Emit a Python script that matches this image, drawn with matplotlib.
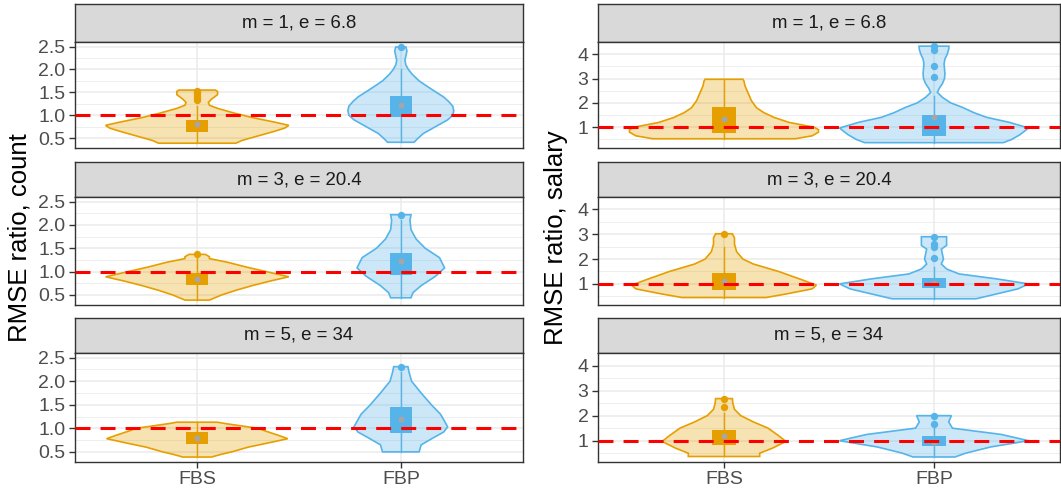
import numpy as np
import matplotlib.pyplot as plt

plt.rcParams['font.family'] = ['Liberation Sans', 'DejaVu Sans']

groups = ["FBS", "FBP"]
facets = ["m = 1, e = 6.8", "m = 3, e = 20.4", "m = 5, e = 34"]
colors = {"FBS": "#E69F00", "FBP": "#56B4E9"}

# violin outlines: value levels and half-widths (x units)
cnt_fbs_y = [[0.39, 0.45, 0.55, 0.65, 0.72, 0.78, 0.85, 0.95, 1.05, 1.15, 1.22, 1.28, 1.35, 1.45, 1.52, 1.55],
             [0.39, 0.5, 0.6, 0.7, 0.8, 0.89, 1.0, 1.1, 1.2, 1.28, 1.32, 1.37],
             [0.39, 0.45, 0.5, 0.6, 0.7, 0.78, 0.85, 0.95, 1.0, 1.05, 1.1, 1.13]]
cnt_fbs_w = [[0.19, 0.22, 0.3, 0.38, 0.43, 0.45, 0.38, 0.27, 0.18, 0.1, 0.06, 0.055, 0.07, 0.1, 0.1, 0.09],
             [0.06, 0.12, 0.19, 0.27, 0.36, 0.45, 0.34, 0.24, 0.15, 0.06, 0.06, 0.04],
             [0.07, 0.12, 0.17, 0.25, 0.36, 0.445, 0.4, 0.33, 0.3, 0.22, 0.14, 0.1]]
cnt_fbp_y = [[0.41, 0.5, 0.6, 0.7, 0.8, 0.9, 1.0, 1.1, 1.2, 1.3, 1.4, 1.5, 1.6, 1.75, 1.9, 2.0, 2.1, 2.2, 2.3, 2.4, 2.49],
             [0.44, 0.55, 0.7, 0.9, 1.08, 1.3, 1.5, 1.7, 1.9, 2.1, 2.22],
             [0.5, 0.65, 0.8, 0.92, 1.03, 1.15, 1.3, 1.5, 1.75, 2.0, 2.2, 2.31]]
cnt_fbp_w = [[0.065, 0.085, 0.11, 0.15, 0.19, 0.23, 0.255, 0.26, 0.255, 0.235, 0.21, 0.175, 0.14, 0.09, 0.055, 0.037, 0.025, 0.02, 0.025, 0.03, 0.025],
             [0.05, 0.06, 0.1, 0.17, 0.215, 0.19, 0.12, 0.075, 0.05, 0.045, 0.05],
             [0.09, 0.1, 0.16, 0.21, 0.23, 0.215, 0.195, 0.15, 0.1, 0.053, 0.04, 0.035]]

sal_fbs_y = [[0.53, 0.65, 0.8, 0.9, 1.0, 1.2, 1.4, 1.6, 1.8, 2.1, 2.4, 2.7, 2.9, 2.97],
             [0.45, 0.6, 0.8, 0.95, 1.2, 1.5, 1.8, 2.0, 2.3, 2.6, 2.85, 3.02],
             [0.37, 0.5, 0.7, 0.97, 1.2, 1.5, 1.75, 2.0, 2.25, 2.5, 2.68]]
sal_fbs_w = [[0.34, 0.42, 0.45, 0.45, 0.43, 0.31, 0.24, 0.19, 0.155, 0.13, 0.115, 0.1, 0.095, 0.09],
             [0.2, 0.3, 0.42, 0.44, 0.36, 0.26, 0.14, 0.09, 0.06, 0.05, 0.05, 0.04],
             [0.17, 0.17, 0.23, 0.295, 0.26, 0.21, 0.14, 0.08, 0.05, 0.042, 0.04]]
sal_fbp_y = [[0.37, 0.5, 0.7, 0.97, 1.2, 1.41, 1.6, 1.82, 2.0, 2.23, 2.43, 2.6, 2.79, 3.0, 3.2, 3.4, 3.6, 3.8, 4.0, 4.2, 4.33],
             [0.4, 0.6, 0.8, 1.0, 1.2, 1.4, 1.6, 1.8, 2.0, 2.2, 2.4, 2.55, 2.7, 2.9],
             [0.35, 0.5, 0.75, 1.0, 1.25, 1.5, 1.75, 2.0]]
sal_fbp_w = [[0.33, 0.37, 0.41, 0.45, 0.36, 0.25, 0.19, 0.135, 0.08, 0.04, 0.016, 0.025, 0.04, 0.05, 0.052, 0.05, 0.048, 0.052, 0.063, 0.07, 0.071],
             [0.2, 0.3, 0.4, 0.45, 0.3, 0.12, 0.06, 0.035, 0.045, 0.04, 0.035, 0.06, 0.06, 0.06],
             [0.1, 0.15, 0.27, 0.45, 0.32, 0.088, 0.07, 0.083]]

# box stats: q1, median, q3, whisker low, whisker high
cnt_fbs_box = [(0.63, 0.82, 0.9, 0.39, 1.2), (0.72, 0.84, 0.97, 0.39, 1.3), (0.67, 0.8, 0.93, 0.39, 1.13)]
cnt_fbp_box = [(0.97, 1.22, 1.42, 0.41, 2.0), (0.93, 1.23, 1.4, 0.44, 2.1), (0.9, 1.2, 1.46, 0.5, 2.2)]
sal_fbs_box = [(0.77, 1.33, 1.82, 0.53, 2.97), (0.75, 1.1, 1.45, 0.45, 2.5), (0.82, 1.2, 1.43, 0.37, 2.1)]
sal_fbp_box = [(0.65, 1.41, 1.5, 0.37, 2.3), (0.85, 1.05, 1.25, 0.4, 1.7), (0.78, 0.95, 1.18, 0.35, 1.5)]

cnt_fbs_out = [[1.33, 1.38, 1.43, 1.48, 1.53], [1.37], []]
cnt_fbp_out = [[2.49], [2.22], [2.3]]
sal_fbs_out = [[], [3.0], [2.65, 2.33]]
sal_fbp_out = [[4.33, 4.16, 3.52, 3.05], [2.9, 2.6, 2.5, 2.05], [2.0, 1.65]]

W, H = 1061, 498
fig = plt.figure(figsize=(W / 100, H / 100), dpi=100)

cols = [(75, 523), (598, 1060)]
rows = [(4, 42, 148), (162, 197, 305), (318, 353, 462)]


def draw_violin(ax, x, ys, ws, color):
    ys = np.array(ys)
    ws = np.array(ws)
    xs = np.concatenate([x - ws, (x + ws)[::-1]])
    yy = np.concatenate([ys, ys[::-1]])
    ax.fill(xs, yy, facecolor=color, alpha=0.3, edgecolor='none', zorder=2)
    ax.fill(xs, yy, facecolor='none', edgecolor=color, lw=1.2, zorder=3)


panels = [
    (cnt_fbs_y, cnt_fbs_w, cnt_fbp_y, cnt_fbp_w, cnt_fbs_box, cnt_fbp_box, cnt_fbs_out, cnt_fbp_out),
    (sal_fbs_y, sal_fbs_w, sal_fbp_y, sal_fbp_w, sal_fbs_box, sal_fbp_box, sal_fbs_out, sal_fbp_out),
]
ylims = [(0.285, 2.6), (0.15, 4.5)]
yticks = [[0.5, 1.0, 1.5, 2.0, 2.5], [1, 2, 3, 4]]
yminor = [[0.75, 1.25, 1.75, 2.25], [0.5, 1.5, 2.5, 3.5]]
yfmt = ["{:.1f}", "{:d}"]

for c, (x0, x1) in enumerate(cols):
    fy, fw, py, pw, fbox, pbox, fout, pout = panels[c]
    for r, (st, pt, pb) in enumerate(rows):
        # strip
        sax = fig.add_axes([x0 / W, (H - pt) / H, (x1 - x0) / W, (pt - st) / H])
        sax.set_facecolor('#D9D9D9')
        sax.set_xticks([])
        sax.set_yticks([])
        for s in sax.spines.values():
            s.set_color('#333333')
            s.set_linewidth(1.0)
        sax.text(0.5, 0.5, facets[r], ha='center', va='center', fontsize=13.4, color='#1A1A1A',
                 transform=sax.transAxes)

        ax = fig.add_axes([x0 / W, (H - pb) / H, (x1 - x0) / W, (pb - pt) / H])
        ax.set_xlim(0.4, 2.6)
        ax.set_ylim(*ylims[c])
        for v in yminor[c]:
            ax.axhline(v, color='#EBEBEB', lw=0.6, zorder=0)
        for v in yticks[c]:
            ax.axhline(v, color='#EBEBEB', lw=1.1, zorder=0)
        for xv in [1, 2]:
            ax.axvline(xv, color='#EBEBEB', lw=1.1, zorder=0)

        for i, g in enumerate(groups):
            xc = i + 1
            col = colors[g]
            ys, ws = (fy[r], fw[r]) if i == 0 else (py[r], pw[r])
            box = fbox[r] if i == 0 else pbox[r]
            outs = fout[r] if i == 0 else pout[r]
            draw_violin(ax, xc, ys, ws, col)
            q1, med, q3, lo, hi = box
            ax.plot([xc, xc], [lo, hi], color=col, lw=1.0, zorder=4)
            ax.add_patch(plt.Rectangle((xc - 0.055, q1), 0.11, q3 - q1, facecolor=col,
                                       edgecolor='none', zorder=5))
            ax.scatter([xc], [med], s=18, color='#A6A6A6', zorder=6, linewidths=0)
            if outs:
                ax.scatter([xc] * len(outs), outs, s=28, color=col, zorder=6, linewidths=0)

        ax.axhline(1, color='#FF0000', lw=2.2, ls=(0, (4.9, 3.3)), zorder=7)

        ax.set_yticks(yticks[c])
        ax.set_yticklabels([yfmt[c].format(v) for v in yticks[c]])
        ax.set_xticks([1, 2])
        if r == 2:
            ax.set_xticklabels(groups)
        else:
            ax.set_xticklabels([])
            ax.tick_params(axis='x', length=0)
        ax.tick_params(labelsize=14, labelcolor='#4D4D4D', color='#333333', width=1.0, pad=2.5)
        ax.tick_params(axis='y', length=4.3)
        if r == 2:
            ax.tick_params(axis='x', length=4.3)
        for s in ax.spines.values():
            s.set_color('#333333')
            s.set_linewidth(1.0)

fig.text(20 / W, (H - 238) / H, "RMSE ratio, count", rotation=90, ha='center', va='center',
         fontsize=18.5, color='black')
fig.text(556 / W, (H - 238) / H, "RMSE ratio, salary", rotation=90, ha='center', va='center',
         fontsize=18.5, color='black')

fig.savefig('out.png', dpi=100)
